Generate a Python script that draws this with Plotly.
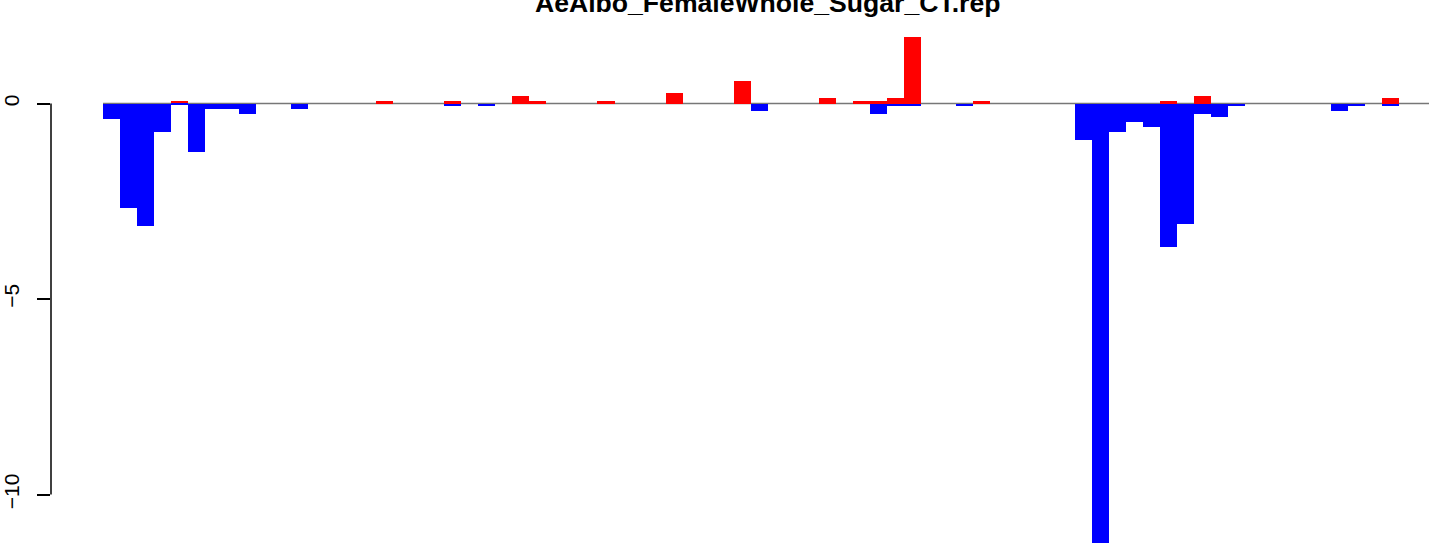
import plotly.graph_objects as go

title_text = "AeAlbo_FemaleWhole_Sugar_CT.rep"

# 76 bars, index positions
positions = list(range(76))

up_values = [
    0, 0, 0, 0, 0.07, 0, 0, 0, 0, 0,
    0, 0, 0, 0, 0, 0, 0.06, 0, 0, 0,
    0.06, 0, 0, 0, 0.19, 0.06, 0, 0, 0, 0.06,
    0, 0, 0, 0.27, 0, 0, 0, 0.58, 0, 0,
    0, 0, 0.14, 0, 0.06, 0.06, 0.14, 1.70, 0, 0,
    0, 0.06, 0, 0, 0, 0, 0, 0, 0, 0,
    0, 0, 0.06, 0, 0.19, 0, 0, 0, 0, 0,
    0, 0, 0, 0, 0, 0.14,
]

down_values = [
    -0.40, -2.66, -3.13, -0.72, -0.05, -1.23, -0.14, -0.14, -0.27, 0,
    0, -0.14, 0, 0, 0, 0, 0, 0, 0, 0,
    -0.06, 0, -0.06, 0, 0, 0, 0, 0, 0, 0,
    0, 0, 0, 0, 0, 0, 0, 0, -0.19, 0,
    0, 0, 0, 0, 0, -0.27, -0.06, -0.06, 0, 0,
    -0.06, 0, 0, 0, 0, 0, 0, -0.93, -11.6, -0.73,
    -0.47, -0.60, -3.67, -3.08, -0.26, -0.35, -0.06, 0, 0, 0,
    0, 0, -0.19, -0.06, 0, -0.06,
]

y_ticks = [0, -5, -10]

fig = go.Figure()
fig.add_trace(go.Bar(x=positions, y=up_values, marker=dict(color="#FF0000", line=dict(width=0)),
                     width=1, showlegend=False, hoverinfo="skip"))
fig.add_trace(go.Bar(x=positions, y=down_values, marker=dict(color="#0000FF", line=dict(width=0)),
                     width=1, showlegend=False, hoverinfo="skip"))

# zero reference line (under the bars)
fig.add_shape(type="line", xref="x", yref="y", x0=-0.5, x1=90, y0=0, y1=0,
              line=dict(color="#777777", width=1.3), layer="below")
# R-style y axis line spanning first to last tick
fig.add_shape(type="line", xref="paper", yref="y", x0=0, x1=0, y0=min(y_ticks), y1=max(y_ticks),
              line=dict(color="black", width=1.5), layer="above")

fig.add_annotation(text="<b>" + title_text + "</b>", xref="paper", yref="paper",
                   x=0.5203, y=0.9945, xanchor="center", yanchor="middle", showarrow=False,
                   font=dict(family="Liberation Sans, Arial, sans-serif", size=26.6, color="black"))

fig.update_layout(
    width=1429, height=543,
    margin=dict(l=51, r=0, t=0, b=0, autoexpand=False),
    paper_bgcolor="white", plot_bgcolor="white",
    barmode="relative", bargap=0,
    font=dict(family="Liberation Sans, Arial, sans-serif", size=21, color="black"),
    xaxis=dict(range=[-3.55, 77.27], visible=False, showgrid=False, zeroline=False, automargin=False),
    yaxis=dict(range=[-11.24, 2.647], tickvals=y_ticks, ticktext=[str(v) if v >= 0 else "\u2212" + str(-v) for v in y_ticks],
               ticks="outside", ticklen=13, tickwidth=1.5, tickcolor="black", automargin=False,
               ticklabelstandoff=10,
               tickangle=-90, showgrid=False, zeroline=False, showline=False,
               tickfont=dict(size=21, color="black")),
)

fig.write_html("out.html", config={"displayModeBar": False},
               post_script="document.body.style.margin='0';")
